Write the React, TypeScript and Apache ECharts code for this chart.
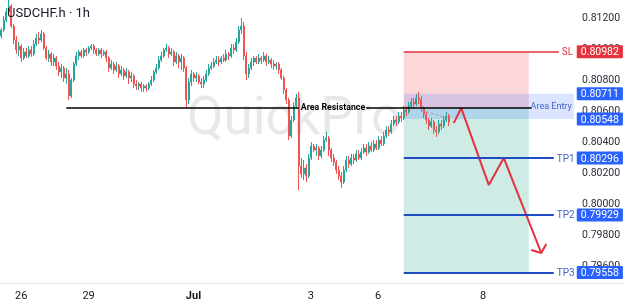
import React, { useEffect, useRef } from 'react';
import * as echarts from 'echarts';

const chartTitle = 'USDCHF.h · 1h';
const watermark = 'QuickPro';

// category slots (hourly bars + empty future space)
const slotCount = 230;
const axisSlotCount = 250;
const xTickIdx = [8, 35, 77, 124, 151, 193];
const xTickLabels = ['26', '29', 'Jul', '3', '6', '8'];

// price axis
const priceMin = 0.794;
const priceMax = 0.81316;
const priceStep = 0.002;

// [open, close, low, high] in 1e-5 price units
const candles: number[][] = [
  [81084, 81123, 81071, 81135], [81123, 81187, 81110, 81213], [81187, 81239, 81174, 81265], [81239, 81277, 81226, 81316],
  [81277, 81148, 81135, 81290], [81148, 81058, 81032, 81161], [81058, 80994, 80968, 81084], [80994, 81019, 80955, 81045],
  [81019, 80942, 80916, 81032], [80942, 80981, 80929, 81006], [80981, 80955, 80942, 81006], [80955, 80994, 80942, 81019],
  [80994, 80968, 80949, 81019], [80968, 81032, 80955, 81058], [81032, 81071, 81019, 81097], [81071, 81058, 81032, 81110],
  [81058, 81097, 81045, 81123], [81097, 81006, 80994, 81110], [81006, 80942, 80929, 81019], [80942, 80968, 80916, 80994],
  [80968, 80916, 80890, 80981], [80916, 80942, 80890, 80968], [80942, 80890, 80865, 80955], [80890, 80852, 80826, 80916],
  [80852, 80877, 80813, 80903], [80877, 80813, 80787, 80890], [80813, 80839, 80774, 80877], [80839, 80697, 80671, 80865],
  [80697, 80800, 80684, 80813], [80800, 80903, 80787, 80916], [80903, 80955, 80890, 80981], [80955, 80981, 80929, 80994],
  [80981, 80955, 80942, 80994], [80955, 80994, 80942, 81006], [80994, 80981, 80955, 81006], [80981, 81006, 80968, 81019],
  [81006, 81019, 80994, 81032], [81019, 80994, 80968, 81032], [80994, 80968, 80955, 81006], [80968, 80994, 80955, 81006],
  [80994, 80968, 80942, 81006], [80968, 80981, 80955, 80994], [80981, 80942, 80916, 80994], [80942, 80877, 80852, 80955],
  [80877, 80903, 80865, 80929], [80903, 80865, 80839, 80916], [80865, 80890, 80852, 80916], [80890, 80839, 80813, 80903],
  [80839, 80865, 80826, 80890], [80865, 80826, 80800, 80877], [80826, 80852, 80813, 80877], [80852, 80813, 80774, 80865],
  [80813, 80826, 80787, 80852], [80826, 80774, 80748, 80839], [80774, 80761, 80735, 80800], [80761, 80774, 80735, 80787],
  [80774, 80748, 80723, 80787], [80748, 80761, 80723, 80774], [80761, 80748, 80723, 80774], [80748, 80774, 80735, 80787],
  [80774, 80800, 80761, 80826], [80800, 80852, 80787, 80865], [80852, 80877, 80839, 80903], [80877, 80929, 80865, 80955],
  [80929, 80955, 80916, 80981], [80955, 80994, 80942, 81006], [80994, 81006, 80981, 81032], [81006, 80968, 80942, 81019],
  [80968, 80981, 80955, 81006], [80981, 80916, 80890, 80994], [80916, 80955, 80903, 80981], [80955, 80916, 80877, 80968],
  [80916, 80942, 80865, 80968], [80942, 80877, 80852, 80955], [80877, 80671, 80626, 80890], [80671, 80787, 80645, 80813],
  [80787, 80839, 80761, 80865], [80839, 80813, 80787, 80852], [80813, 80826, 80787, 80852], [80826, 80787, 80774, 80839],
  [80787, 80774, 80748, 80813], [80774, 80800, 80748, 80826], [80800, 80839, 80787, 80865], [80839, 80877, 80826, 80903],
  [80877, 80890, 80865, 80916], [80890, 80916, 80877, 80942], [80916, 80929, 80903, 80955], [80929, 80916, 80890, 80955],
  [80916, 80942, 80903, 80955], [80942, 80929, 80916, 80968], [80929, 80968, 80916, 80994], [80968, 80955, 80929, 80981],
  [80955, 81006, 80942, 81032], [81006, 80994, 80968, 81032], [80994, 81045, 80981, 81071], [81045, 81123, 81032, 81148],
  [81123, 81148, 81097, 81200], [81148, 80955, 80929, 81174], [80955, 80839, 80800, 80981], [80839, 80877, 80813, 80903],
  [80877, 80916, 80865, 80942], [80916, 80942, 80890, 80955], [80942, 80916, 80903, 80955], [80916, 80942, 80903, 80968],
  [80942, 80929, 80903, 80955], [80929, 80955, 80916, 80981], [80955, 80916, 80890, 80968], [80916, 80929, 80903, 80955],
  [80929, 80903, 80877, 80942], [80903, 80890, 80865, 80929], [80890, 80903, 80865, 80916], [80903, 80865, 80839, 80916],
  [80865, 80813, 80800, 80877], [80813, 80735, 80710, 80826], [80735, 80671, 80645, 80748], [80671, 80439, 80413, 80684],
  [80439, 80542, 80426, 80568], [80542, 80632, 80529, 80658], [80632, 80684, 80619, 80710], [80684, 80245, 80090, 80723],
  [80245, 80194, 80168, 80297], [80194, 80232, 80155, 80284], [80232, 80181, 80142, 80258], [80181, 80297, 80168, 80323],
  [80297, 80374, 80284, 80400], [80374, 80348, 80335, 80387], [80348, 80361, 80310, 80387], [80361, 80310, 80284, 80374],
  [80310, 80348, 80297, 80374], [80348, 80413, 80335, 80439], [80413, 80426, 80400, 80465], [80426, 80348, 80310, 80439],
  [80348, 80297, 80271, 80361], [80297, 80271, 80245, 80323], [80271, 80219, 80194, 80284], [80219, 80181, 80155, 80245],
  [80181, 80142, 80103, 80206], [80142, 80219, 80129, 80245], [80219, 80284, 80206, 80310], [80284, 80258, 80232, 80310],
  [80258, 80297, 80245, 80323], [80297, 80284, 80258, 80323], [80284, 80323, 80271, 80348], [80323, 80297, 80284, 80348],
  [80297, 80335, 80284, 80361], [80335, 80361, 80323, 80387], [80361, 80335, 80310, 80387], [80335, 80374, 80323, 80400],
  [80374, 80348, 80335, 80400], [80348, 80387, 80335, 80413], [80387, 80361, 80348, 80413], [80361, 80413, 80348, 80439],
  [80413, 80387, 80374, 80439], [80387, 80439, 80374, 80465], [80439, 80477, 80426, 80503], [80477, 80465, 80439, 80503],
  [80465, 80516, 80452, 80542], [80516, 80542, 80503, 80568], [80542, 80529, 80503, 80568], [80529, 80568, 80516, 80594],
  [80568, 80555, 80529, 80594], [80555, 80606, 80542, 80632], [80606, 80594, 80568, 80632], [80594, 80632, 80581, 80658],
  [80632, 80658, 80619, 80684], [80658, 80645, 80619, 80684], [80645, 80684, 80632, 80710], [80684, 80671, 80645, 80723],
  [80671, 80619, 80594, 80697], [80619, 80581, 80555, 80632], [80581, 80542, 80516, 80594], [80542, 80503, 80477, 80555],
  [80503, 80529, 80490, 80555], [80529, 80477, 80452, 80542], [80477, 80465, 80432, 80503], [80465, 80516, 80452, 80542],
  [80516, 80503, 80477, 80542], [80503, 80542, 80490, 80568], [80542, 80568, 80529, 80594], [80568, 80529, 80503, 80581],
];

// trade levels
const slPrice = 0.80982;
const entryTop = 0.80711;
const entryBottom = 0.80548;
const entryPrice = 0.80623;
const resistancePrice = 0.80623;
const tpPrices = [0.80296, 0.79929, 0.79558];
const tpNames = ['TP1', 'TP2', 'TP3'];

// projected path [slot index, price]
const arrowPath: number[][] = [[181, 0.80522], [184, 0.80619], [195, 0.80123], [201, 0.80297], [216, 0.79684]];
const arrowHead: number[][] = [[212, 0.79703], [216, 0.79684], [218, 0.79742]];
const dashPath: number[][] = [[168, 0.80606], [177, 0.80561]];

const RED = '#e5323f';
const BLUE_TAG = '#2962ff';
const BLUE_LINE = '#1f4bc2';
const BLUE_TEXT = '#4565c8';

export default function App() {
  const ref = useRef<HTMLDivElement>(null);
  useEffect(() => {
    document.body.style.margin = '0';
    const chart = echarts.init(ref.current!, undefined, { renderer: 'svg' });
    const cats = Array.from({ length: slotCount }, (_, i) => String(i));
    const axisCats = Array.from({ length: axisSlotCount }, (_, i) => String(i));
    const data = candles.map((c) => c.map((v) => v / 100000));

    const tag = (price: number, color: string) => [
      {
        coord: [slotCount - 2, price],
        lineStyle: { color: 'rgba(0,0,0,0)', width: 1, type: 'solid' },
        label: {
          show: true,
          position: 'end',
          distance: 3,
          formatter: price.toFixed(5),
          color: '#fff',
          backgroundColor: color,
          padding: [1, 4, 0, 4],
          fontSize: 10.5,
          lineHeight: 12,
          borderRadius: 1,
        },
      },
      { coord: [slotCount - 1, price] },
    ];

    const zoneStart = 161;
    const zoneEnd = 211;

    chart.setOption({
      animation: false,
      textStyle: { fontFamily: 'Roboto' },
      title: {
        text: chartTitle,
        left: 7,
        top: 6,
        padding: 0,
        textStyle: { fontSize: 13, fontWeight: 'normal', color: '#131722', fontFamily: 'Roboto' },
      },
      graphic: [
        {
          type: 'text',
          left: 187,
          top: 89,
          z: -1,
          silent: true,
          style: { text: watermark, fontSize: 53, fill: '#e8e8e8', fontFamily: 'Roboto' },
        },
      ],
      grid: [
        { left: 0, right: 49, top: 0, bottom: 9 },
        { left: 0, width: 625, top: 282, height: 1 },
      ],
      xAxis: [
        {
          type: 'category',
          gridIndex: 0,
          data: cats,
          boundaryGap: true,
          axisLine: { show: false },
          axisTick: { show: false },
          axisLabel: { show: false },
          splitLine: { show: false },
        },
        {
          type: 'category',
          gridIndex: 1,
          data: axisCats,
          boundaryGap: true,
          axisLine: { show: true, lineStyle: { color: '#e0e3eb', width: 1 } },
          axisTick: { show: false },
          splitLine: { show: false },
          axisLabel: {
            show: true,
            interval: (i: number) => xTickIdx.includes(i),
            formatter: (_v: string, i: number) => {
              const k = xTickIdx.indexOf(i);
              if (k < 0) return '';
              const t = xTickLabels[k];
              return t === 'Jul' ? '{b|' + t + '}' : t;
            },
            margin: 7,
            fontSize: 11,
            color: '#131722',
            rich: { b: { fontWeight: 'bold', fontSize: 11, color: '#131722' } },
          },
        },
      ],
      yAxis: [
        {
          type: 'value',
          gridIndex: 0,
          position: 'right',
          min: priceMin,
          max: priceMax,
          interval: priceStep,
          axisLine: { show: false },
          axisTick: { show: false },
          splitLine: { show: false },
          axisLabel: {
            margin: 7,
            fontSize: 10.5,
            color: '#2a2e39',
            showMinLabel: false,
            showMaxLabel: false,
            formatter: (v: number) => v.toFixed(5),
          },
        },
        { type: 'value', gridIndex: 1, show: false, min: 0, max: 1 },
      ],
      series: [
        {
          type: 'candlestick',
          xAxisIndex: 0,
          yAxisIndex: 0,
          data,
          barWidth: 1.8,
          itemStyle: {
            color: '#26a69a',
            color0: '#ef5350',
            borderColor: '#26a69a',
            borderColor0: '#ef5350',
            borderWidth: 1,
          },
          markArea: {
            silent: true,
            data: [
              [
                { xAxis: zoneStart, yAxis: slPrice, itemStyle: { color: 'rgba(242,54,69,0.2)' }, label: { show: false } },
                { xAxis: zoneEnd, yAxis: entryPrice },
              ],
              [
                { xAxis: zoneStart, yAxis: entryPrice, itemStyle: { color: 'rgba(8,153,129,0.2)' }, label: { show: false } },
                { xAxis: zoneEnd, yAxis: tpPrices[2] },
              ],
              [
                {
                  xAxis: zoneStart,
                  yAxis: entryTop,
                  itemStyle: { color: 'rgba(41,98,255,0.17)' },
                  label: {
                    show: true,
                    position: 'insideRight',
                    distance: 2,
                    formatter: 'Area Entry',
                    color: BLUE_TEXT,
                    fontSize: 9,
                  },
                },
                { xAxis: 229, yAxis: entryBottom },
              ],
            ],
          },
          markLine: {
            silent: true,
            symbol: ['none', 'none'],
            data: [
              [
                {
                  coord: [26, resistancePrice],
                  lineStyle: { color: '#000', width: 1.6, type: 'solid' },
                  label: {
                    show: true,
                    position: 'end',
                    distance: 2,
                    formatter: 'Area Resistance',
                    color: '#000',
                    fontWeight: 'bold',
                    fontSize: 8.8,
                  },
                },
                { coord: [119, resistancePrice] },
              ],
              [
                { coord: [146, resistancePrice], lineStyle: { color: '#000', width: 1.6, type: 'solid' }, label: { show: false } },
                { coord: [212, resistancePrice] },
              ],
              [
                {
                  coord: [zoneStart, slPrice],
                  lineStyle: { color: RED, width: 1.5, type: 'solid' },
                  label: { show: true, position: 'end', distance: 3, formatter: 'SL', color: RED, fontSize: 10 },
                },
                { coord: [223, slPrice] },
              ],
              ...tpPrices.map((p, k) => [
                {
                  coord: [zoneStart, p],
                  lineStyle: { color: BLUE_LINE, width: 2, type: 'solid' },
                  label: { show: true, position: 'end', distance: 3, formatter: tpNames[k], color: BLUE_TEXT, fontSize: 10 },
                },
                { coord: [221, p] },
              ]),
              tag(slPrice, RED),
              tag(entryTop, BLUE_TAG),
              tag(entryBottom, BLUE_TAG),
              ...tpPrices.map((p) => tag(p, BLUE_TAG)),
            ],
          },
        },
        {
          type: 'line',
          xAxisIndex: 0,
          yAxisIndex: 0,
          data: dashPath,
          symbol: 'none',
          silent: true,
          lineStyle: { color: '#9aa0aa', width: 1, type: [3, 2] },
        },
        {
          type: 'line',
          xAxisIndex: 0,
          yAxisIndex: 0,
          data: arrowPath,
          symbol: 'none',
          silent: true,
          lineStyle: { color: RED, width: 2 },
        },
        {
          type: 'line',
          xAxisIndex: 0,
          yAxisIndex: 0,
          data: arrowHead,
          symbol: 'none',
          silent: true,
          lineStyle: { color: RED, width: 2 },
        },
      ],
    });
    return () => chart.dispose();
  }, []);
  return <div ref={ref} style={{ position: 'fixed', left: 0, top: 0, width: 624, height: 306 }} />;
}
